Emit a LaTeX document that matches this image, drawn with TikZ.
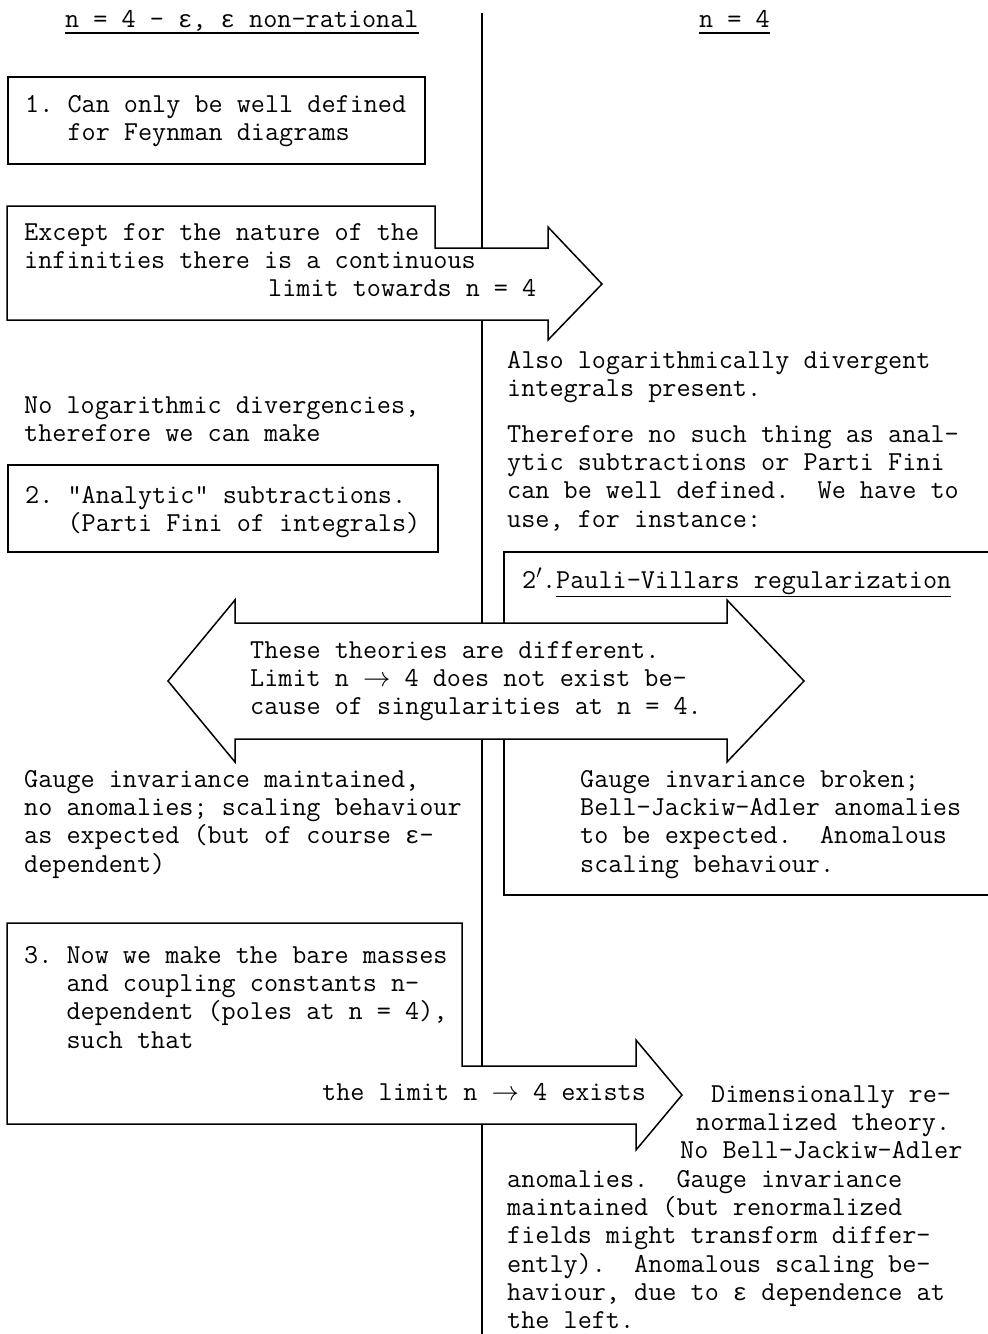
\RequirePackage{fix-cm}
\documentclass[tikz,border=0pt]{standalone}
\usepackage{fontspec}
\newfontfamily\grk{Liberation Mono}
\usetikzlibrary{calc}
\newcommand\tw{\fontsize{27.4}{28.3}\selectfont\ttfamily\frenchspacing\lineskiplimit=-100pt}
\newcommand\fst{\rule{0pt}{22pt}}
\newcommand\eps{{\grk\fontsize{24}{28.3}\selectfont ε}}
\newcommand\ra{$\rightarrow$}
\begin{document}
\begin{tikzpicture}[x=1pt,y=-1pt,
  ln/.style={line width=1.5pt, line join=miter},
  shp/.style={ln, fill=white},
  boxnode/.style={draw, ln, inner sep=0pt, anchor=north west},
  txt/.style={anchor=north west, inner sep=0pt, align=left, font=\tw}]
\useasboundingbox (0,0) rectangle (988,1334);
% central divider
\coordinate (vtop) at (482,13);
\coordinate (vbot) at (482,1334);
\draw[ln] (vtop) -- (vbot);
% headers
\node[txt] (hl) at (65,5) {\fst n = 4 - \eps, \eps\ non-rational};
\node[txt] (hr) at (699,5) {\fst n = 4};
\draw[ln] ([yshift=-6pt]hl.base west) -- ([yshift=-6pt]hl.base east);
\draw[ln] ([yshift=-6pt]hr.base west) -- ([yshift=-6pt]hr.base east);
% box 1
\node[boxnode, minimum width=417pt, minimum height=87pt] (box1) at (7,76) {};
\node[txt] (t1) at (25,90) {\fst 1. Can only be well defined\\\phantom{1.~}for Feynman diagrams};
% arrow 1
\draw[shp] (7,206) -- (435,206) -- (435,248) -- (548,248) -- (548,227) -- (602,284)
  -- (548,340) -- (548,320) -- (7,320) -- cycle;
\node[txt] (ta1) at (24,218) {\fst Except for the nature of the\\infinities there is a continuous\\\hspace*{244pt}limit towards n = 4};
% middle texts
\node[txt] (nolog) at (24,391) {\fst No logarithmic divergencies,\\therefore we can make};
\node[txt] (also) at (507,346) {\fst Also logarithmically divergent\\integrals present.};
\node[txt] (there) at (507,420) {\fst Therefore no such thing as anal-\\ytic subtractions or Parti Fini\\can be well defined.~ We have to\\use, for instance:};
% box 2
\node[boxnode, minimum width=430pt, minimum height=87pt] (box2) at (7,464) {};
\node[txt] (t2) at (25,481) {\fst 2. "Analytic" subtractions.\\\phantom{2.~}(Parti Fini of integrals)};
% box 2'
\draw[ln] (988,552) -- (504,552) -- (504,895) -- (988,895);
\node[txt] (t2p) at (522,566) {\fst 2$'$.\underline{Pauli-Villars regularization}};
% double arrow
\draw[shp] (168,681) -- (235,600) -- (235,623) -- (727,623) -- (727,600) -- (804,681)
  -- (727,762) -- (727,739) -- (235,739) -- (235,762) -- cycle;
\node[txt] (tdbl) at (250,636) {\fst These theories are different.\\Limit n \ra\ 4 does not exist be-\\cause of singularities at n = 4.};
% consequences
\node[txt] (gl) at (24,765) {\fst Gauge invariance maintained,\\no anomalies; scaling behaviour\\as expected (but of course \eps-\\dependent)};
\node[txt] (gr) at (580,765) {\fst Gauge invariance broken;\\Bell-Jackiw-Adler anomalies\\to be expected.~ Anomalous\\scaling behaviour.};
% arrow 3
\draw[shp] (7,923) -- (462,923) -- (462,1066) -- (636,1066) -- (636,1040) -- (682,1095)
  -- (636,1150) -- (636,1124) -- (7,1124) -- cycle;
\node[txt] (t3) at (24,941) {\fst 3. Now we make the bare masses\\\phantom{3.~}and coupling constants n-\\\phantom{3.~}dependent (poles at n = 4),\\\phantom{3.~}such that};
\node[txt] (lim) at (322,1078) {\fst the limit n \ra\ 4 exists};
\node[txt] (dim) at (507,1080) {\fst\hspace*{204pt}Dimensionally re-\\\hspace*{189pt}normalized theory.\\\hspace*{173pt}No Bell-Jackiw-Adler\\anomalies.~ Gauge invariance\\maintained (but renormalized\\fields might transform differ-\\ently).~ Anomalous scaling be-\\haviour, due to \eps\ dependence at\\the left.};
\end{tikzpicture}
\end{document}
